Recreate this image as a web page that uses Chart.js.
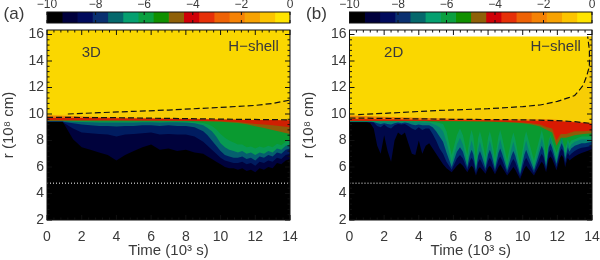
<!DOCTYPE html>
<html>
<head>
<meta charset="utf-8">
<script src="https://cdn.jsdelivr.net/npm/chart.js@4/dist/chart.umd.js"></script>
<style>
  body { margin: 0; background: #fff; width: 600px; height: 260px; overflow: hidden; }
  canvas { position: absolute; }
</style>
</head>
<body>
<canvas id="barA" width="300" height="26" style="left:0;top:0"></canvas>
<canvas id="barB" width="300" height="26" style="left:300px;top:0"></canvas>
<canvas id="panelA" width="300" height="260" style="left:0;top:0"></canvas>
<canvas id="panelB" width="300" height="260" style="left:300px;top:0"></canvas>
<script>
const xTicks = [0, 2, 4, 6, 8, 10, 12, 14];
const yTicks = [2, 4, 6, 8, 10, 12, 14, 16];
const Y_MAX = 16.34;
const barEdges = [-10, -9.375, -8.75, -8.125, -7.5, -6.875, -6.25, -5.625, -5, -4.375, -3.75, -3.125, -2.5, -1.875, -1.25, -0.625, 0];
const barColors = ['#000000', '#00003c', '#000a5c', '#0a3070', '#05686c', '#05a070', '#0aa040', '#109000',
  '#8f6008', '#d00008', '#e63008', '#ee6205', '#f58205', '#f7a202', '#fcc400', '#ffe400'];
const barTicks = [-10, -8, -6, -4, -2, 0];

// panel (a), 3D: top of each colour region along time
const timesA = [0, 0.9, 1, 1.5, 2, 2.5, 3, 3.5, 4, 4.5, 5, 5.5, 6, 6.5, 7, 7.5, 8, 8.5, 9, 9.25, 9.5, 9.75, 10, 10.25, 10.5, 10.75, 11, 11.25, 11.5, 11.75, 12, 12.25, 12.5, 12.75, 13, 13.25, 13.5, 13.75, 14];
const blackA = [9.4, 9.4, 9.2, 8.1, 7.5, 7.3, 7.1, 6.9, 6.5, 6.9, 7.2, 7.5, 7.7, 7.3, 7.4, 7.2, 7.3, 7.1, 7.0, 6.8, 6.6, 6.4, 6.2, 6.0, 5.9, 5.9, 5.8, 5.9, 5.7, 5.8, 5.6, 5.9, 5.8, 6.0, 5.9, 6.3, 6.2, 6.5, 6.6];
const navyA = [9.42, 9.42, 9.3, 8.9, 8.6, 8.55, 8.5, 8.45, 8.3, 8.45, 8.5, 8.55, 8.6, 8.45, 8.5, 8.45, 8.45, 8.3, 7.9, 7.6, 7.3, 7.0, 6.7, 6.5, 6.4, 6.3, 6.3, 6.4, 6.2, 6.3, 6.1, 6.4, 6.3, 6.5, 6.4, 6.7, 6.6, 6.9, 7.0];
const blueA = [9.44, 9.44, 9.4, 9.3, 9.2, 9.15, 9.1, 9.1, 9.05, 9.1, 9.1, 9.15, 9.15, 9.1, 9.15, 9.1, 9.1, 9.0, 8.7, 8.4, 8.0, 7.6, 7.2, 6.9, 6.8, 6.7, 6.7, 6.8, 6.6, 6.7, 6.5, 6.8, 6.7, 6.9, 6.8, 7.1, 7.0, 7.3, 7.4];
const tealA = [9.46, 9.46, 9.45, 9.42, 9.4, 9.38, 9.36, 9.36, 9.35, 9.36, 9.36, 9.38, 9.38, 9.36, 9.38, 9.38, 9.36, 9.3, 9.15, 8.95, 8.7, 8.3, 7.8, 7.5, 7.3, 7.2, 7.1, 7.2, 7.0, 7.1, 6.9, 7.1, 7.0, 7.2, 7.1, 7.4, 7.3, 7.6, 7.7];
const seaA = [9.48, 9.48, 9.47, 9.46, 9.45, 9.45, 9.44, 9.44, 9.44, 9.44, 9.44, 9.44, 9.44, 9.44, 9.44, 9.44, 9.43, 9.4, 9.32, 9.22, 9.1, 8.85, 8.5, 8.2, 8.0, 7.85, 7.7, 7.7, 7.5, 7.55, 7.4, 7.55, 7.45, 7.6, 7.5, 7.75, 7.65, 7.9, 8.0];
const upperTimesA = [0, 4, 8, 9, 10, 11, 11.5, 12, 12.5, 13, 13.5, 14];
const greenA = [9.5, 9.49, 9.47, 9.45, 9.42, 9.33, 9.22, 9.08, 8.95, 8.8, 8.65, 8.5];
const brownA = [9.52, 9.51, 9.5, 9.48, 9.46, 9.4, 9.32, 9.25, 9.2, 9.15, 9.08, 9.0];
const redA = [9.72, 9.68, 9.62, 9.6, 9.58, 9.56, 9.55, 9.55, 9.54, 9.54, 9.53, 9.52];
const orangeA = [9.9, 9.74, 9.66, 9.64, 9.6, 9.58, 9.57, 9.57, 9.56, 9.56, 9.55, 9.54];
const shellTimesA = [0, 1.2, 3, 5, 7, 10, 12, 13, 14];
const shellA = [9.92, 10.0, 10.1, 10.2, 10.3, 10.5, 10.65, 10.8, 11.05];
const topTimesA = [0, 14];
const topA = [16.34, 16.34];
const upperDashTimesA = [1.2, 3, 5, 7, 10, 12, 13, 14];
const upperDashA = [10.0, 10.1, 10.2, 10.3, 10.5, 10.65, 10.8, 11.05];
const lowerDashTimesA = [0, 4, 8, 11, 14];
const lowerDashA = [9.75, 9.72, 9.65, 9.6, 9.56];

// panel (b), 2D: samples bunch around the streaks
const timesB = [0, 0.2, 0.4, 0.6, 0.8, 1, 1.2, 1.4, 1.6, 1.8, 2, 2.2, 2.4, 2.6, 2.8, 3, 3.2, 3.4, 3.6, 3.8, 4, 4.2, 4.4, 4.6, 4.8, 5, 5.2, 5.4,
  5.6, 5.9, 6.2, 6.38, 6.55, 6.8, 6.95, 7.05, 7.15, 7.3, 7.43, 7.53, 7.63, 7.85, 8.0, 8.1, 8.2, 8.4, 8.6, 8.7, 8.8, 9.1, 9.35, 9.46, 9.57, 9.85, 10.1, 10.2, 10.3, 10.65, 11.0, 11.1, 11.2, 11.35, 11.5, 11.6, 11.7, 11.95, 12.15, 12.25, 12.35, 12.45, 12.55, 12.6, 12.7,
  12.8, 13, 13.2, 13.4, 13.6, 13.8, 14];
const blackB = [9.38, 9.38, 9.38, 9.38, 9.38, 9.38, 9.3, 8.9, 7.6, 7.0, 8.4, 7.2, 6.4, 8.0, 8.6, 8.4, 8.6, 7.8, 7.0, 6.9, 8.0, 7.0, 7.6, 7.8, 7.4, 7.0, 6.6, 6.2,
  5.9, 5.6, 6.1, 6.3, 6.1, 5.6, 5.95, 6.1, 5.95, 5.35, 5.85, 6.0, 5.85, 5.5, 5.95, 6.1, 5.95, 5.45, 6.0, 6.2, 6.0, 5.35, 5.8, 6.0, 5.8, 5.1, 5.9, 6.1, 5.9, 5.35, 6.2, 6.4, 6.2, 5.6, 6.6, 6.8, 6.6, 5.75, 6.7, 6.9, 6.7, 6.0, 6.5, 6.7, 6.5,
  6.6, 6.8, 6.95, 7.05, 7.15, 7.25, 7.35];
const navyB = [9.4, 9.4, 9.4, 9.4, 9.4, 9.4, 9.4, 9.35, 9.1, 9.0, 9.2, 9.0, 8.9, 9.15, 9.25, 9.2, 9.25, 9.1, 8.9, 8.8, 9.0, 8.8, 8.9, 8.9, 8.5, 8.0, 7.4, 7.0,
  6.4, 5.8, 6.65, 6.9, 6.65, 5.8, 6.45, 6.7, 6.45, 5.55, 6.35, 6.6, 6.35, 5.7, 6.45, 6.7, 6.45, 5.65, 6.55, 6.8, 6.55, 5.55, 6.35, 6.6, 6.35, 5.3, 6.45, 6.7, 6.45, 5.55, 6.75, 7.0, 6.75, 5.8, 7.05, 7.3, 7.05, 6.0, 7.15, 7.4, 7.15, 6.3, 6.85, 7.1, 6.85,
  7.0, 7.2, 7.35, 7.45, 7.5, 7.55, 7.6];
const blueB = [9.41, 9.41, 9.41, 9.41, 9.41, 9.41, 9.41, 9.4, 9.3, 9.25, 9.3, 9.25, 9.2, 9.3, 9.35, 9.3, 9.35, 9.3, 9.2, 9.15, 9.2, 9.15, 9.15, 9.15, 9.0, 8.7, 8.3, 7.9,
  7.1, 6.0, 7.15, 7.5, 7.15, 6.0, 6.95, 7.3, 6.95, 5.75, 6.85, 7.2, 6.85, 5.9, 6.95, 7.3, 6.95, 5.85, 7.05, 7.4, 7.05, 5.75, 6.85, 7.2, 6.85, 5.5, 6.95, 7.3, 6.95, 5.75, 7.25, 7.6, 7.25, 6.0, 7.45, 7.8, 7.45, 6.25, 7.45, 7.8, 7.45, 6.6, 7.15, 7.5, 7.15,
  7.4, 7.6, 7.7, 7.8, 7.8, 7.85, 7.9];
const tealB = [9.42, 9.42, 9.42, 9.42, 9.42, 9.42, 9.42, 9.42, 9.42, 9.42, 9.42, 9.42, 9.42, 9.42, 9.42, 9.42, 9.42, 9.42, 9.4, 9.35, 9.4, 9.35, 9.35, 9.35, 9.25, 9.15, 9.0, 8.7,
  7.9, 6.3, 7.7, 8.2, 7.7, 6.3, 7.5, 8.0, 7.5, 6.0, 7.4, 7.9, 7.4, 6.2, 7.5, 8.0, 7.5, 6.1, 7.6, 8.1, 7.6, 6.0, 7.4, 7.9, 7.4, 5.7, 7.5, 8.0, 7.5, 6.0, 7.7, 8.2, 7.7, 6.3, 7.8, 8.3, 7.8, 6.6, 7.7, 8.2, 7.7, 7.0, 7.4, 7.9, 7.4,
  7.7, 7.9, 8.0, 8.1, 8.1, 8.1, 8.1];
const seaB = [9.45, 9.45, 9.45, 9.45, 9.45, 9.45, 9.45, 9.45, 9.45, 9.45, 9.45, 9.45, 9.45, 9.45, 9.45, 9.45, 9.45, 9.45, 9.45, 9.45, 9.45, 9.45, 9.45, 9.42, 9.4, 9.38, 9.33, 9.25,
  8.7, 6.9, 8.4, 8.9, 8.4, 6.9, 8.3, 8.8, 8.3, 6.5, 8.2, 8.7, 8.2, 6.7, 8.2, 8.7, 8.2, 6.6, 8.3, 8.8, 8.3, 6.5, 8.1, 8.6, 8.1, 6.1, 8.2, 8.7, 8.2, 6.5, 8.3, 8.8, 8.3, 6.8, 8.0, 8.4, 8.0, 7.1, 7.8, 8.2, 7.8, 7.4, 7.8, 8.1, 7.8,
  8.0, 8.1, 8.2, 8.3, 8.3, 8.3, 8.3];
const upperTimesB = [0, 2, 4, 5, 6, 7, 8, 9, 10, 10.5, 11, 11.4, 11.7, 11.95, 12.2, 12.5, 13, 13.5, 14];
const greenB = [9.47, 9.47, 9.47, 9.46, 9.45, 9.44, 9.42, 9.38, 9.3, 9.2, 9.05, 8.8, 8.6, 7.6, 8.2, 8.2, 8.4, 8.5, 8.55];
const brownB = [9.5, 9.5, 9.5, 9.5, 9.48, 9.47, 9.46, 9.42, 9.36, 9.3, 9.2, 9.0, 8.9, 8.0, 8.5, 8.5, 8.7, 8.7, 8.75];
const redB = [9.62, 9.6, 9.57, 9.55, 9.53, 9.52, 9.52, 9.52, 9.5, 9.5, 9.5, 9.5, 9.48, 9.47, 9.45, 9.42, 9.38, 9.32, 9.27];
const orangeB = [9.88, 9.8, 9.72, 9.68, 9.65, 9.62, 9.62, 9.61, 9.6, 9.6, 9.6, 9.6, 9.58, 9.56, 9.53, 9.5, 9.44, 9.38, 9.32];
const shellTimesB = [0, 0.5, 2, 5, 8, 10, 11, 12, 12.7, 13, 13.3, 13.5, 13.7, 13.85, 13.85, 13.75, 14];
const shellB = [9.9, 9.96, 10.05, 10.26, 10.4, 10.56, 10.68, 10.95, 11.25, 11.4, 11.85, 12.2, 12.9, 13.6, 14.8, 15.85, 15.85];
const topTimesB = [0, 14];
const topB = [15.85, 15.85];
const upperDashTimesB = [0.5, 2, 5, 8, 10, 11, 12, 12.7, 13, 13.3, 13.5, 13.7, 13.85, 13.85, 13.75];
const upperDashB = [9.96, 10.05, 10.26, 10.4, 10.56, 10.68, 10.95, 11.25, 11.4, 11.85, 12.2, 12.9, 13.6, 14.8, 15.85];
const lowerDashTimesB = [0, 3, 6, 10, 12, 13, 14];
const lowerDashB = [9.7, 9.65, 9.6, 9.56, 9.5, 9.42, 9.28];

const dottedTimes = [0, 14];
const dottedR = [4.78, 4.78];

const FONT = '"Liberation Sans"';
const INK = '#3a3a3a';
const SOFT = 'blur(0.7px)';

function zip(xs, ys) {
  return xs.map((x, i) => ({ x: x, y: ys[i] }));
}

function region(xs, ys, color) {
  return { data: zip(xs, ys), backgroundColor: color, borderWidth: 0, fill: 'start', pointRadius: 0 };
}

function stroke(xs, ys, color, dash, width) {
  return { data: zip(xs, ys), borderColor: color, borderWidth: width, borderDash: dash, fill: false, pointRadius: 0 };
}

// inward ticks on all four sides plus the black frame, and the small labels
const framePlugin = {
  id: 'frame',
  afterDatasetsDraw(chart, args, opts) {
    const { ctx, chartArea: a, scales } = chart;
    ctx.save();
    ctx.filter = 'none';
    ctx.strokeStyle = '#111';
    ctx.lineWidth = 1;
    ctx.strokeRect(a.left, a.top, a.width, a.height);
    ctx.beginPath();
    for (let t = 0, i = 0; t <= 14.001; t += 0.4, i++) {
      const px = scales.x.getPixelForValue(t);
      const len = i % 5 === 0 ? 5 : 2.5;
      ctx.moveTo(px, a.top); ctx.lineTo(px, a.top + len);
      ctx.moveTo(px, a.bottom); ctx.lineTo(px, a.bottom - len);
    }
    for (let r = 2, i = 0; r <= 16.2; r += 0.4, i++) {
      const py = scales.y.getPixelForValue(r);
      const len = i % 5 === 0 ? 5 : 2.5;
      ctx.moveTo(a.left, py); ctx.lineTo(a.left + len, py);
      ctx.moveTo(a.right, py); ctx.lineTo(a.right - len, py);
    }
    ctx.stroke();
    ctx.fillStyle = INK;
    ctx.textBaseline = 'middle';
    ctx.textAlign = 'center';
    ctx.font = '15px ' + FONT;
    ctx.fillText(opts.run, scales.x.getPixelForValue(2.55), scales.y.getPixelForValue(14.6));
    ctx.fillText('H\u2212shell', scales.x.getPixelForValue(11.9), scales.y.getPixelForValue(15.1));
    ctx.font = '17px ' + FONT;
    ctx.fillText(opts.tag, a.left - 33, 14);
    ctx.restore();
  }
};

// the fills are a little soft in the original, the dashed lines are not
const softenPlugin = {
  id: 'soften',
  beforeDatasetsDraw(chart) { chart.ctx.filter = SOFT; },
  beforeDatasetDraw(chart) { chart.ctx.filter = 'none'; },
  afterDatasetDraw(chart) { chart.ctx.filter = SOFT; },
  afterDatasetsDraw(chart) { chart.ctx.filter = 'none'; }
};

function buildPanel(id, left, right, datasets, run, tag) {
  return new Chart(document.getElementById(id), {
    type: 'line',
    data: { datasets: datasets },
    options: {
      responsive: false,
      animation: false,
      layout: { padding: { left: 0, right: right, top: 30, bottom: 0 } },
      elements: { line: { tension: 0 } },
      plugins: { legend: { display: false }, tooltip: { enabled: false }, frame: { run: run, tag: tag } },
      scales: {
        x: {
          type: 'linear', min: 0, max: 14,
          afterBuildTicks: s => { s.ticks = xTicks.map(v => ({ value: v })); },
          afterFit: s => { s.height = 40; s.paddingLeft = 0; s.paddingRight = 0; },
          grid: { display: false, drawTicks: false }, border: { display: false },
          ticks: { color: INK, font: { family: FONT, size: 14 }, padding: 9, maxRotation: 0, autoSkip: false },
          title: { display: true, text: 'Time (10\u00b3 s)', color: INK, font: { family: FONT, size: 15 }, padding: 0 }
        },
        y: {
          type: 'linear', min: 2, max: Y_MAX,
          afterBuildTicks: s => { s.ticks = yTicks.map(v => ({ value: v })); },
          afterFit: s => { s.width = left; s.paddingTop = 0; s.paddingBottom = 0; },
          grid: { display: false, drawTicks: false }, border: { display: false },
          ticks: { color: INK, font: { family: FONT, size: 14 }, padding: 3, autoSkip: false },
          title: { display: true, text: 'r (10\u2078 cm)', color: INK, font: { family: FONT, size: 15 }, padding: 0 }
        }
      }
    },
    plugins: [softenPlugin, framePlugin]
  });
}

function buildBar(id, left, right) {
  const sets = barColors.map((c, i) => ({
    data: [[barEdges[i], barEdges[i + 1]]],
    backgroundColor: c,
    grouped: false,
    barPercentage: 1,
    categoryPercentage: 1,
    borderWidth: 0
  }));
  return new Chart(document.getElementById(id), {
    type: 'bar',
    data: { labels: [''], datasets: sets },
    options: {
      indexAxis: 'y',
      responsive: false,
      animation: false,
      layout: { padding: { left: left, right: right, top: 0, bottom: 3 } },
      plugins: { legend: { display: false }, tooltip: { enabled: false } },
      scales: {
        y: { display: false },
        x: {
          type: 'linear', position: 'top', min: -10, max: 0,
          afterBuildTicks: s => { s.ticks = barTicks.map(v => ({ value: v })); },
          afterFit: s => { s.height = 12; s.paddingLeft = 0; s.paddingRight = 0; },
          grid: { display: false, drawTicks: false }, border: { display: false },
          ticks: {
            color: INK, font: { family: FONT, size: 12 }, padding: 0, maxRotation: 0, autoSkip: false,
            callback: v => String(v).replace('-', '\u2212')
          }
        }
      }
    },
    plugins: [{
      id: 'barFrame',
      afterDatasetsDraw(chart) {
        const { ctx, chartArea: a, scales } = chart;
        ctx.save();
        ctx.strokeStyle = '#111';
        ctx.strokeRect(a.left, a.top, a.width, a.height);
        ctx.beginPath();
        barTicks.forEach(v => {
          const px = scales.x.getPixelForValue(v);
          ctx.moveTo(px, a.top); ctx.lineTo(px, a.top + 3);
          ctx.moveTo(px, a.bottom); ctx.lineTo(px, a.bottom - 3);
        });
        ctx.stroke();
        ctx.restore();
      }
    }]
  });
}

window.addEventListener('load', () => {
  buildBar('barA', 47, 10);
  buildBar('barB', 49.5, 8);
  buildPanel('panelA', 47, 10, [
    stroke(upperDashTimesA, upperDashA, '#111', [6, 3], 1.2),
    stroke(lowerDashTimesA, lowerDashA, '#111', [6, 3], 1.2),
    stroke(dottedTimes, dottedR, '#fff', [1, 2], 1),
    region(timesA, blackA, '#000000'),
    region(timesA, navyA, '#00023c'),
    region(timesA, blueA, '#001c60'),
    region(timesA, tealA, '#05606e'),
    region(timesA, seaA, '#089a52'),
    region(upperTimesA, greenA, '#0a9a30'),
    region(upperTimesA, brownA, '#8f5a08'),
    region(upperTimesA, redA, '#cf1f02'),
    region(upperTimesA, orangeA, '#f08205'),
    region(shellTimesA, shellA, '#f7cd05'),
    region(topTimesA, topA, '#fad700')
  ], '3D', '(a)');
  buildPanel('panelB', 49.5, 8, [
    stroke(upperDashTimesB, upperDashB, '#111', [6, 3], 1.2),
    stroke(lowerDashTimesB, lowerDashB, '#111', [6, 3], 1.2),
    stroke(dottedTimes, dottedR, '#fff', [1, 2], 1),
    region(timesB, blackB, '#000000'),
    region(timesB, navyB, '#00084a'),
    region(timesB, blueB, '#00306e'),
    region(timesB, tealB, '#068072'),
    region(timesB, seaB, '#089c58'),
    region(upperTimesB, greenB, '#0a9a30'),
    region(upperTimesB, brownB, '#8f5a08'),
    region(upperTimesB, redB, '#d81a02'),
    region(upperTimesB, orangeB, '#f08205'),
    region(shellTimesB, shellB, '#f7cd05'),
    region(topTimesB, topB, '#fad700')
  ], '2D', '(b)');
});
</script>
</body>
</html>
